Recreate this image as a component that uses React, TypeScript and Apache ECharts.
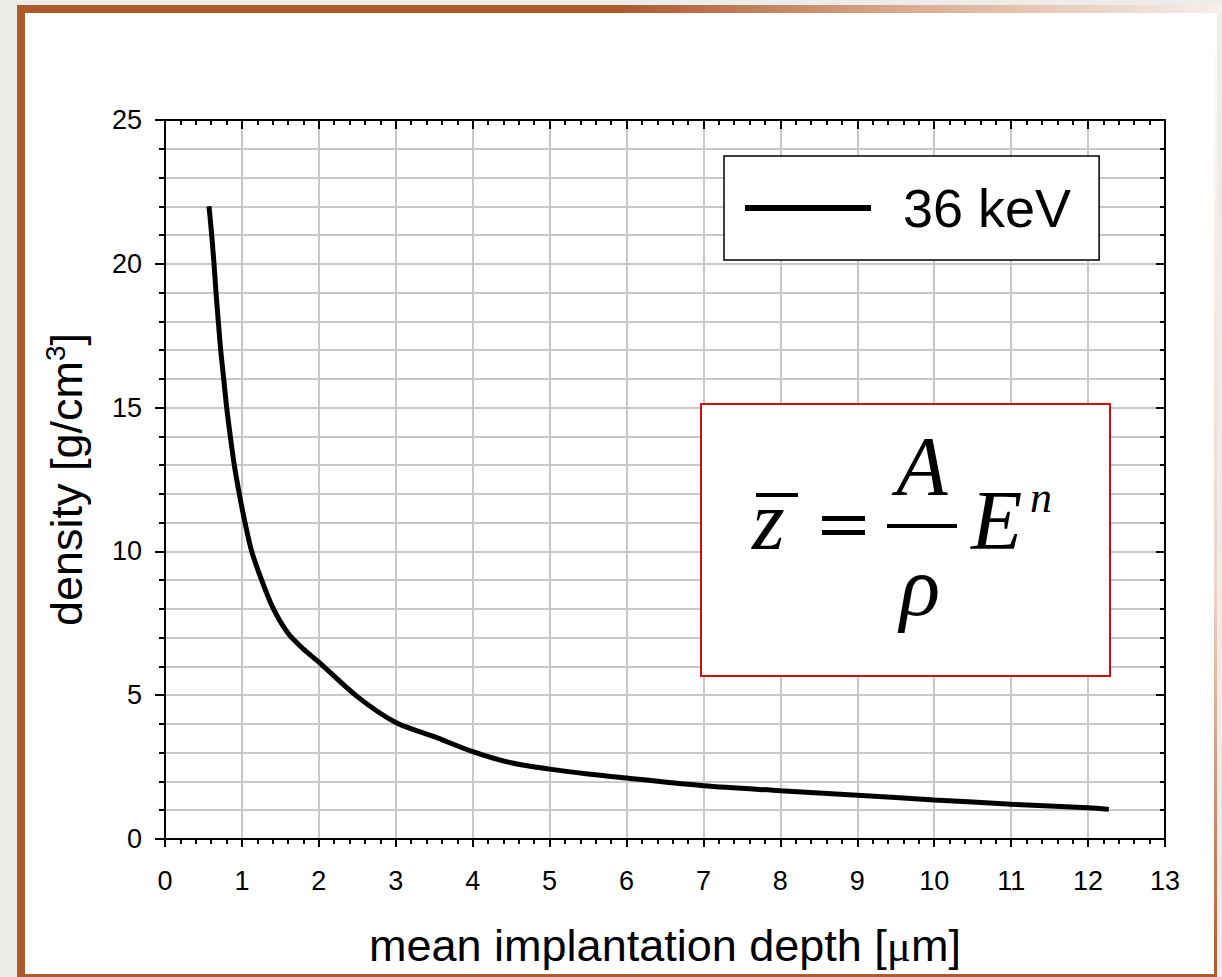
import React, { useEffect, useRef } from "react";
import * as echarts from "echarts";

// Mean implantation depth (µm) versus density (g/cm³) for 36 keV
const depthUm = [
  0.572, 0.607, 0.637, 0.663, 0.693, 0.724, 0.763, 0.802, 0.849, 0.901, 0.966,
  1.04, 1.127, 1.257, 1.41, 1.6, 1.8, 2.0, 2.5, 3.0, 3.5, 4.0, 4.5, 5.0, 5.5,
  6.0, 7.0, 8.0, 9.0, 10.0, 11.0, 12.0, 12.27,
];
const density = [
  22, 21, 20, 19, 18, 17, 16, 15, 14, 13, 12, 11, 10, 9, 8, 7.15, 6.6, 6.15,
  4.95, 4.05, 3.56, 3.04, 2.65, 2.43, 2.26, 2.12, 1.85, 1.68, 1.52, 1.36, 1.21,
  1.09, 1.03,
];
const seriesName = "36 keV";
const xRange = [0, 13];
const yRange = [0, 25];
const xStep = 1;
const yStep = 5;

const SANS = '"Liberation Sans", Arial, Helvetica, sans-serif';
const SERIF = '"Liberation Serif", "Times New Roman", serif';
const GRID = "#c8c8c8";
const BROWN = "#ad5a2f";

export default function App() {
  const ref = useRef<HTMLDivElement>(null);

  useEffect(() => {
    if (!ref.current) return;
    const chart = echarts.init(ref.current, null, { renderer: "svg" });
    const points = depthUm.map((x, i) => [x, density[i]]);

    const tickStyle = { color: "#000", width: 2 };
    const axisLine = { show: true, onZero: false, lineStyle: { color: "#000", width: 2 } };

    const italic = (text: string, x: number, y: number, size: number, align: string) => ({
      type: "text",
      x,
      y,
      z: 60,
      silent: true,
      style: {
        text,
        fill: "#000",
        fontFamily: SERIF,
        fontStyle: "italic",
        fontSize: size,
        font: `italic ${size}px ${SERIF}`,
        align,
        textAlign: align,
        verticalAlign: "middle",
        textVerticalAlign: "middle",
      },
    });
    const bar = (x: number, y: number, w: number, h: number) => ({
      type: "rect",
      z: 60,
      silent: true,
      shape: { x, y, width: w, height: h },
      style: { fill: "#000" },
    });

    chart.setOption({
      animation: false,
      backgroundColor: "#eeece9",
      grid: { left: 165, right: 57, top: 120, bottom: 138, containLabel: false },
      legend: {
        data: [seriesName],
        left: 724,
        top: 156,
        orient: "horizontal",
        selectedMode: false,
        backgroundColor: "#fff",
        borderColor: "#000",
        borderWidth: 1.5,
        borderRadius: 0,
        padding: [22, 28, 22, 21],
        icon: "rect",
        itemWidth: 126,
        itemHeight: 6,
        itemStyle: { color: "#000" },
        textStyle: {
          fontSize: 54,
          fontFamily: SANS,
          color: "#000",
          lineHeight: 60,
          padding: [0, 0, 0, 27],
        },
        z: 20,
      },
      xAxis: [
        {
          type: "value",
          position: "bottom",
          min: xRange[0],
          max: xRange[1],
          interval: xStep,
          axisLine,
          axisTick: { show: true, inside: false, length: 8, lineStyle: tickStyle },
          minorTick: { show: true, splitNumber: 5, length: 5, lineStyle: tickStyle },
          splitLine: { show: true, lineStyle: { color: GRID, width: 2 } },
          axisLabel: { fontSize: 27, fontFamily: SANS, color: "#000", margin: 28 },
          name: "{a|mean implantation depth [}{mu|μ}{a|m]}",
          nameLocation: "middle",
          nameGap: 84,
          nameTextStyle: {
            rich: {
              a: { fontSize: 45, fontFamily: SANS, color: "#000" },
              mu: { fontSize: 45, fontFamily: SERIF, color: "#000" },
            },
          },
        },
        {
          type: "value",
          position: "top",
          min: xRange[0],
          max: xRange[1],
          interval: xStep,
          axisLine,
          axisTick: { show: true, inside: true, length: 9, lineStyle: tickStyle },
          minorTick: { show: true, splitNumber: 5, length: 5, lineStyle: tickStyle },
          splitLine: { show: false },
          axisLabel: { show: false },
        },
      ],
      yAxis: [
        {
          type: "value",
          position: "left",
          min: yRange[0],
          max: yRange[1],
          interval: yStep,
          axisLine,
          axisTick: { show: true, inside: false, length: 10, lineStyle: tickStyle },
          minorTick: { show: true, splitNumber: 5, length: 6, lineStyle: tickStyle },
          splitLine: { show: true, lineStyle: { color: GRID, width: 2 } },
          minorSplitLine: { show: true, lineStyle: { color: GRID, width: 2 } },
          axisLabel: { fontSize: 27, fontFamily: SANS, color: "#000", margin: 23 },
          name: "{a|density [g/cm}{s|3}{a|]}",
          nameLocation: "middle",
          nameRotate: 90,
          nameGap: 74,
          nameTextStyle: {
            rich: {
              a: { fontSize: 45, fontFamily: SANS, color: "#000", lineHeight: 50 },
              s: { fontSize: 28, fontFamily: SANS, color: "#000", verticalAlign: "top", lineHeight: 28 },
            },
          },
        },
        {
          type: "value",
          position: "right",
          min: yRange[0],
          max: yRange[1],
          interval: yStep,
          axisLine,
          axisTick: { show: true, inside: true, length: 9, lineStyle: tickStyle },
          minorTick: { show: true, splitNumber: 5, length: 5, lineStyle: tickStyle },
          splitLine: { show: false },
          axisLabel: { show: false },
        },
      ],
      series: [
        {
          name: seriesName,
          type: "line",
          xAxisIndex: 0,
          yAxisIndex: 0,
          data: points,
          smooth: 0.3,
          symbol: "none",
          showSymbol: false,
          lineStyle: { color: "#000", width: 5, cap: "butt" },
          itemStyle: { color: "#000" },
          z: 10,
        },
      ],
      graphic: [
        // slide frame
        {
          type: "rect",
          z: -100,
          silent: true,
          shape: { x: 25, y: 13, width: 1192, height: 961 },
          style: { fill: "#ffffff" },
        },
        {
          type: "rect",
          z: -99,
          silent: true,
          shape: { x: 17, y: 5, width: 8, height: 972 },
          style: { fill: BROWN },
        },
        {
          type: "rect",
          z: -99,
          silent: true,
          shape: { x: 17, y: 5, width: 1205, height: 8 },
          style: {
            fill: new echarts.graphic.LinearGradient(0, 0, 1, 0, [
              { offset: 0, color: BROWN },
              { offset: 0.5, color: BROWN },
              { offset: 0.75, color: "#dcae94" },
              { offset: 1, color: "#f7efeb" },
            ]),
          },
        },
        {
          type: "rect",
          z: -99,
          silent: true,
          shape: { x: 17, y: 974, width: 1200, height: 3 },
          style: { fill: BROWN },
        },
        {
          type: "rect",
          z: -99,
          silent: true,
          shape: { x: 1214, y: 13, width: 3, height: 964 },
          style: {
            fill: new echarts.graphic.LinearGradient(0, 0, 0, 1, [
              { offset: 0, color: "#ffffff" },
              { offset: 0.6, color: "#ecd3c5" },
              { offset: 1, color: BROWN },
            ]),
          },
        },
        // formula box
        {
          type: "rect",
          z: 50,
          silent: true,
          shape: { x: 701, y: 404, width: 409, height: 272 },
          style: { fill: "#fff", stroke: "#cc1010", lineWidth: 2 },
        },
        bar(756, 493, 42, 4),
        italic("z", 752, 520, 84, "left"),
        bar(822, 516, 43, 5),
        bar(822, 530, 43, 5),
        italic("A", 922, 466, 84, "center"),
        bar(887, 524, 70, 4),
        italic("ρ", 920, 586, 84, "center"),
        italic("E", 971, 520, 84, "left"),
        italic("n", 1030, 497, 44, "left"),
      ],
    });

    return () => chart.dispose();
  }, []);

  return (
    <div
      ref={ref}
      style={{ position: "absolute", left: 0, top: 0, width: 1222, height: 977 }}
    />
  );
}
